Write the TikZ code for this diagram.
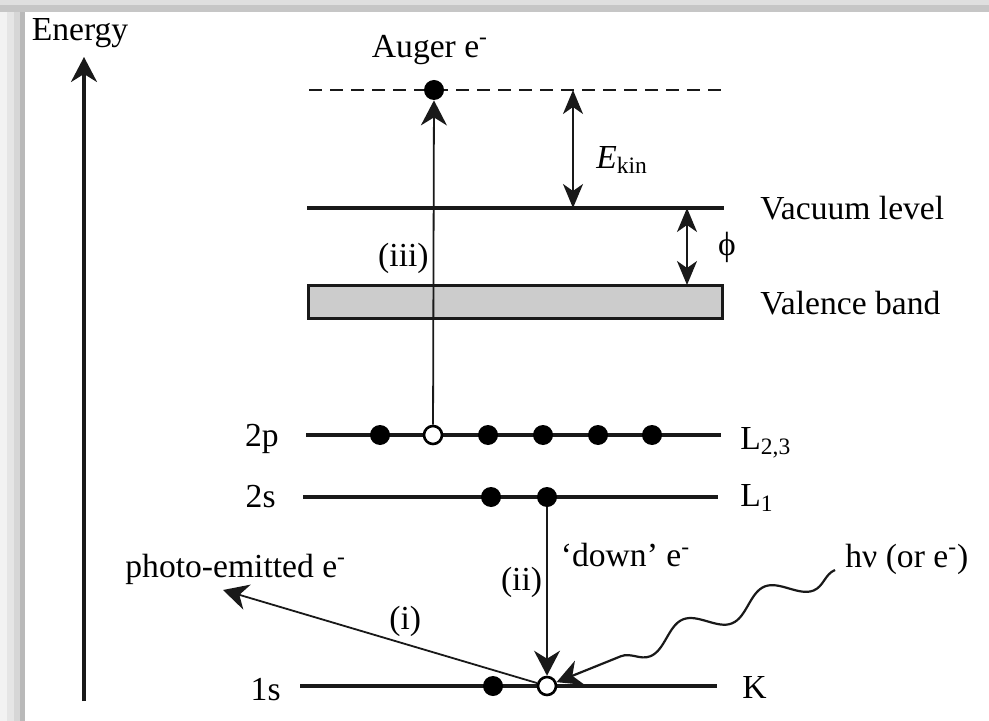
\documentclass[tikz,border=0pt]{standalone}
\usepackage{fontspec}
\setmainfont{Liberation Serif}
\usetikzlibrary{arrows.meta,positioning,calc,decorations.pathmorphing}

\begin{document}
\begin{tikzpicture}[x=0.5pt,y=-0.5pt,>={Stealth[length=12.5pt,width=13pt,inset=4pt]},
  font=\fontsize{16.8}{20}\selectfont,
  lvl/.style={line width=1.6pt,draw=black!90},
  el/.style={circle,fill=black,minimum size=10pt,inner sep=0pt},
  hole/.style={circle,draw=black,fill=white,line width=1.3pt,minimum size=9pt,inner sep=0pt},
  tr/.style={->,line width=0.9pt,draw=black!90},
  gap/.style={{Stealth[length=12pt,width=10pt,inset=3.5pt]}-{Stealth[length=12pt,width=10pt,inset=3.5pt]},line width=0.9pt,draw=black!90},
  lbl/.style={inner sep=0pt}]
\useasboundingbox (0,0) rectangle (989,721);
% shadow frame
\fill[white] (0,0) rectangle (989,721);
\fill[gray!10] (0,12) rectangle (7,721);
\fill[gray!20] (7,12) rectangle (14,721);
\fill[gray!32] (14,12) rectangle (20,721);
\fill[gray!55] (20,12) rectangle (25,721);
\fill[gray!25] (0,0) rectangle (989,5);
\fill[gray!45] (0,5) rectangle (989,12);

% energy axis
\node[lbl] (entxt) at (80,33) {Energy};
\coordinate (ax0) at (84,701);
\coordinate (ax1) at (84,57);
\draw[->,line width=1.6pt,draw=black!90] (ax0) -- (ax1);

% levels
\coordinate (dashL) at (309,90);  \coordinate (dashR) at (727,90);
\coordinate (vacL) at (307,208);  \coordinate (vacR) at (724,208);
\coordinate (ptL) at (306,435);   \coordinate (ptR) at (721,435);
\coordinate (stL) at (303,497);   \coordinate (stR) at (718,497);
\coordinate (ksL) at (300,686);   \coordinate (ksR) at (717,686);
\draw[lvl,line width=1.3pt,dash pattern=on 6.5pt off 4pt] (dashL) -- (dashR);
\draw[lvl] (vacL) -- (vacR);
\draw[lvl] (ptL) -- (ptR);
\draw[lvl] (stL) -- (stR);
\draw[lvl] (ksL) -- (ksR);
\node[draw=black!90,line width=1.4pt,fill=gray!40,minimum width=207pt,minimum height=16.5pt,inner sep=0pt] (vb) at (515.5,302) {};

% level labels
\node[lbl,anchor=east] (t2p) at (279,439) {2p};
\node[lbl,anchor=east] (t2s) at (276,497) {2s};
\node[lbl,anchor=east] (t1s) at (281,690) {1s};
\node[lbl,anchor=west] (tL23) at (740,443) {L\textsubscript{2,3}};
\node[lbl,anchor=west] (tL1) at (740,498) {L\textsubscript{1}};
\node[lbl,anchor=west] (tK) at (742,687) {K};
\node[lbl,anchor=west] (tvac) at (760,208) {Vacuum level};
\node[lbl,anchor=west] (tvb) at (760,303) {Valence band};

% electrons and holes
\node[el] (aug) at (434,90) {};
\node[el] (p2a) at (380,435) {};
\node[hole] (p2h) at (433,435) {};
\node[el] (p2b) at (488,435) {};
\node[el] (p2c) at (543,435) {};
\node[el] (p2d) at (598,435) {};
\node[el] (p2e) at (652,435) {};
\node[el] (s2a) at (491,497) {};
\node[el] (s2b) at (547,497) {};
\node[el] (k1a) at (493,686) {};
\node[hole] (kh) at (547,686) {};

\node[lbl] (tAug) at (430,50) {Auger e\textsuperscript{-}};

% transitions
\draw[tr] (p2h) -- node[pos=.514,lbl,left=2pt]{(iii)} (aug);
\draw[tr] (s2b) -- node[pos=.444,lbl,left=2pt]{(ii)}
  node[pos=.284,lbl,right=6.5pt]{‘down’ e\textsuperscript{-}} (kh);
\coordinate (pe) at (223,590);
\draw[tr] (kh) -- node[pos=.42,lbl,above=3pt]{(i)} (pe);
\node[lbl,anchor=west] (tpe) at (125,569) {photo-emitted e\textsuperscript{-}};
\node[lbl,anchor=west] (thv) at (845,559) {hν (or e\textsuperscript{-})};
\coordinate (hv) at (835,570);
\draw[->,line width=1.1pt,draw=black!90,decorate,
  decoration={snake,amplitude=5.5pt,segment length=44pt,post length=14pt}] (hv) -- (kh);

% energy gaps
\coordinate (ekT) at (573,90);  \coordinate (ekB) at (573,208);
\draw[gap] (ekT) -- (ekB);
\node[lbl,anchor=west] (tek) at (596,160) {\textit{E}\textsubscript{kin}};
\coordinate (phT) at (687,208); \coordinate (phB) at (687,285);
\draw[gap] (phT) -- (phB);
\node[lbl] (tphi) at (727,247) {ϕ};
\end{tikzpicture}
\end{document}
